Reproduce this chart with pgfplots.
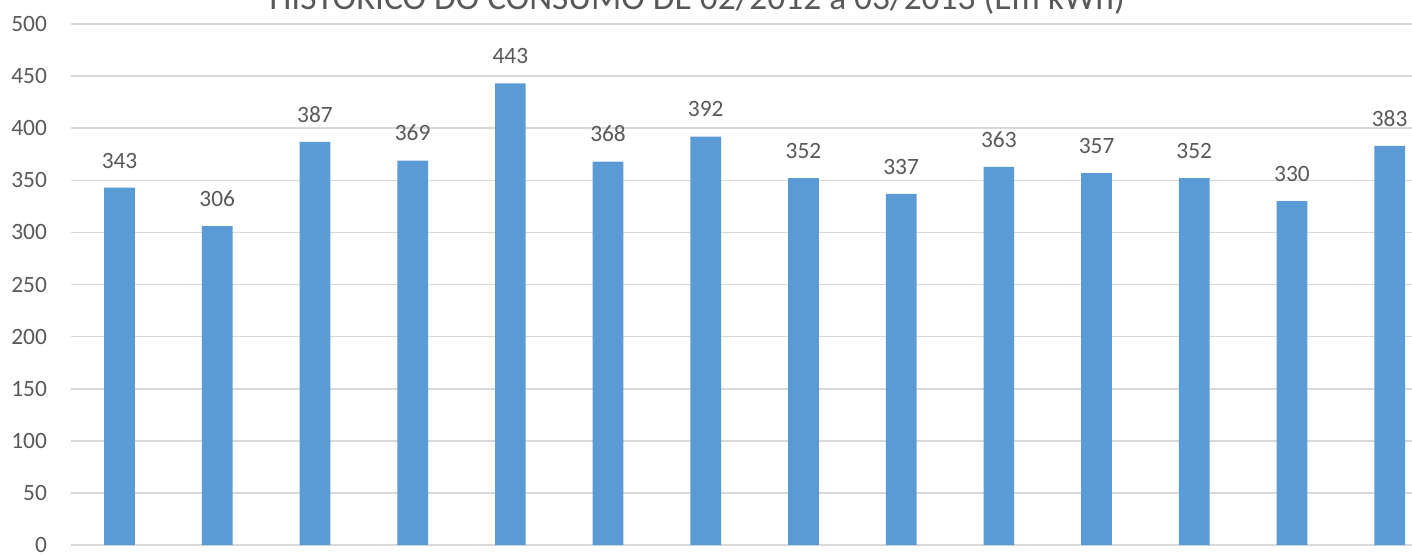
\documentclass[border=0pt]{standalone}
\usepackage{fontspec}
\setmainfont{Carlito}
\usepackage{pgfplots}
\pgfplotsset{compat=1.18}
\definecolor{barblue}{HTML}{5B9BD5}
\definecolor{gridgray}{HTML}{D9D9D9}
\definecolor{txtgray}{HTML}{595959}
\begin{document}
\begin{tikzpicture}[x=1pt,y=1pt]
\useasboundingbox (-35.35,-4.5) rectangle (670.65,272.5);
\clip (-35.35,-4.5) rectangle (670.65,272.5);
\begin{axis}[
  at={(0,0)}, anchor=south west, scale only axis,
  width=683.9pt, height=260.5pt,
  xmin=0.5, xmax=14.5, ymin=0, ymax=500,
  ytick={0,50,...,500}, xtick=\empty,
  ymajorgrids, grid style={gridgray, line width=0.8pt},
  axis line style={draw=none},
  major tick length=0pt, tick style={draw=none},
  /pgf/number format/assume math mode=true,
  yticklabel style={font=\fontsize{11.7}{14}\selectfont, text=txtgray, anchor=east, inner sep=0pt, xshift=-11.7pt},
  ybar, bar width=15.35pt,
  nodes near coords,
  nodes near coords style={font=\fontsize{11.7}{14}\selectfont, text=txtgray, anchor=base, yshift=9.8pt},
  clip=false,
]
\addplot[fill=barblue, draw=none] coordinates {
(1,343) (2,306) (3,387) (4,369) (5,443) (6,368) (7,392)
(8,352) (9,337) (10,363) (11,357) (12,352) (13,330) (14,383)
};
\end{axis}
\node[anchor=base, font=\fontsize{17.7}{20}\selectfont, text=txtgray, inner sep=0pt] at (313.2,267.75) {HISTÓRICO DO CONSUMO DE 02/2012 a 03/2013 (Em kWh)};
\end{tikzpicture}
\end{document}
